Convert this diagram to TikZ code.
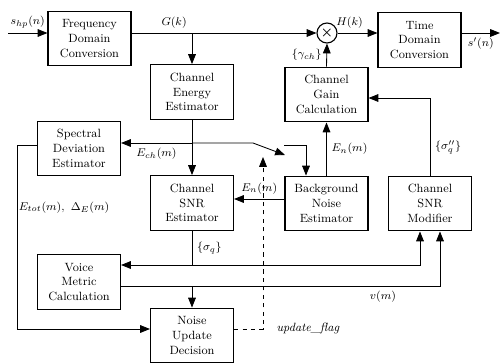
\documentclass[tikz,border=0pt]{standalone}
\usetikzlibrary{arrows.meta}
\begin{document}
\begin{tikzpicture}[x=0.025cm, y=-0.025cm, line width=0.6pt,
  >={Triangle[length=7pt,width=5.5pt]}, font=\fontsize{8.5}{10.5}\selectfont]
\tikzstyle{blk}=[draw, line width=0.8pt, align=center, minimum width=2.075cm, minimum height=1.37cm, inner sep=1pt]
\tikzstyle{mix}=[draw, circle, line width=0.8pt, minimum size=0.5cm, inner sep=0pt, font=\boldmath]
\useasboundingbox (0,0) rectangle (501,363);

\node[blk] (FDC) at (89.5,38.5) {Frequency\\Domain\\Conversion};
\node[blk] (CEE) at (192,92) {Channel\\Energy\\Estimator};
\node[mix] (X) at (327,33) {$\times$};
\node[blk] (TDC) at (419.5,40) {Time\\Domain\\Conversion};
\node[blk] (CGC) at (326.5,94.5) {Channel\\Gain\\Calculation};
\node[blk] (SDE) at (79,148.5) {Spectral\\Deviation\\Estimator};
\node[blk] (CSE) at (192,203) {Channel\\SNR\\Estimator};
\node[blk] (BNE) at (326.5,203.5) {Background\\Noise\\Estimator};
\node[blk] (CSM) at (430,203.5) {Channel\\SNR\\Modifier};
\node[blk] (VMC) at (79,282) {Voice\\Metric\\Calculation};
\node[blk] (NUD) at (192,335.5) {Noise\\Update\\Decision};

\coordinate (in) at (8,33);
\coordinate (out) at (500,33);
\coordinate (G) at (192,33);
\coordinate (ech) at (192,143);
\coordinate (swa) at (253,143);
\coordinate (swb) at (285,155);
\coordinate (swc) at (284,145);
\coordinate (swd) at (306,145);
\coordinate (enl) at (0,199);
\coordinate (sig) at (192,265);
\coordinate (sigr) at (420,265);
\coordinate (vm) at (192,286);
\coordinate (vmr) at (440,286);
\coordinate (snrm) at (430,98);
\coordinate (tot) at (17,145);
\coordinate (totb) at (17,329);
\coordinate (flag) at (263,329);
\coordinate (flagt) at (263,157);

% main signal path
\draw[->] (in) -- (in -| FDC.west) node[midway, above] {$s_{hp}(n)$};
\draw[->] (FDC.east |- in) -- (X.west) node[pos=0.23, above] {$G(k)$};
\draw[->] (G) -- (CEE.north);
\draw[->] (X.east) -- (X.east -| TDC.west) node[pos=0.3, above] {$H(k)$};
\draw[->] (TDC.east |- out) -- (out) node[midway, below] {$s'(n)$};
\draw[->] (CGC.north) -- (X.south) node[midway, left] {$\{\gamma_{ch}\}$};

% estimators
\draw[->] (CEE.south) -- (CSE.north);
\draw[->] (ech) -- (ech -| SDE.east) node[midway, below] {$E_{ch}(m)$};
\draw[->] (ech) -- (swa) -- (swb);
\draw[->] (swc) -- (swd) -- (swd |- BNE.north);
\draw[->] (BNE.north) -- (CGC.south) node[midway, right] {$E_n(m)$};
\draw[->] (BNE.west |- enl) -- (CSE.east |- enl) node[midway, above] {$E_n(m)$};
\draw[->] (CSE.south) -- (sig) node[midway, right] {$\{\sigma_q\}$} -- (sig -| VMC.east);
\draw[->] (sig) -- (sigr) -- (sigr |- CSM.south);
\draw (VMC.east |- vm) -- (vm);
\draw[->] (vm) -- (NUD.north);
\draw[->] (vm) -- (vmr) node[pos=0.77, below] {$v(m)$} -- (vmr |- CSM.south);
\draw[->] (CSM.north) -- (snrm) node[pos=0.36, right] {$\{\sigma''_q\}$} -- (snrm -| CGC.east);
\draw[->] (SDE.west |- tot) -- (tot) -- (totb) node[pos=0.34, right, inner sep=1pt] {$E_{tot}(m),\ \Delta_E(m)$} -- (NUD.west |- totb);

% update flag
\draw[->, dashed] (NUD.east |- flag) -- (flag) node[right=6pt] {\textit{update\_flag}} -- (flagt);
\end{tikzpicture}
\end{document}
